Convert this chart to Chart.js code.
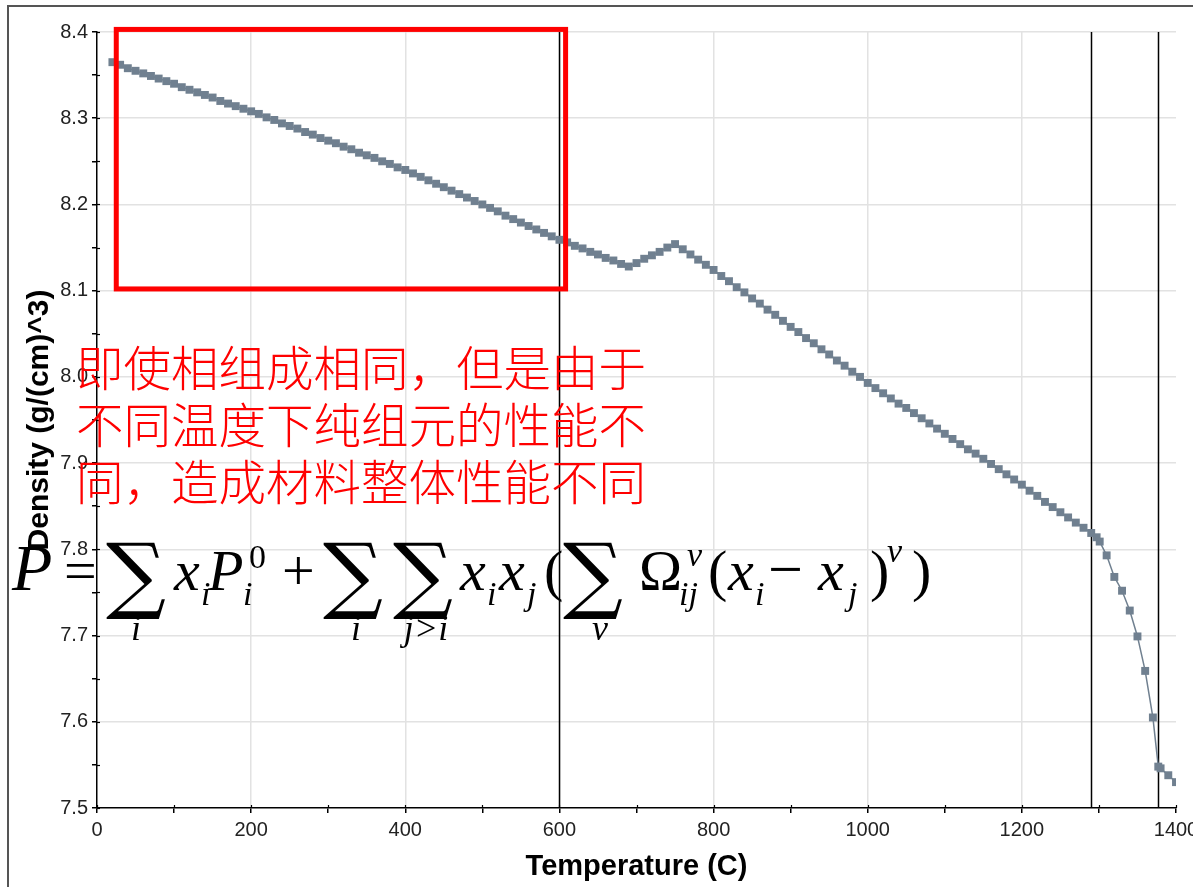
<!DOCTYPE html>
<html>
<head>
<meta charset="utf-8">
<script src="https://cdn.jsdelivr.net/npm/chart.js@4/dist/chart.umd.min.js"></script>
<style>
  html, body { margin: 0; padding: 0; background: #fff; }
  #wrap { width: 1193px; height: 887px; position: relative; }
</style>
</head>
<body>
<div id="wrap"><canvas id="grafico"></canvas></div>
<script>
// === DATOS ===
const temperaturas = [
  20, 30, 40, 50, 60, 70, 80, 90, 100, 110, 120, 130, 140, 150, 160, 170, 180, 190, 200,
  210, 220, 230, 240, 250, 260, 270, 280, 290, 300, 310, 320, 330, 340, 350, 360, 370, 380, 390, 400,
  410, 420, 430, 440, 450, 460, 470, 480, 490, 500, 510, 520, 530, 540, 550, 560, 570, 580, 590, 600,
  610, 620, 630, 640, 650, 660, 670, 680, 690, 700, 710, 720, 730, 740, 750,
  760, 770, 780, 790, 800, 810, 820, 830, 840, 850, 860, 870, 880, 890, 900,
  910, 920, 930, 940, 950, 960, 970, 980, 990, 1000,
  1010, 1020, 1030, 1040, 1050, 1060, 1070, 1080, 1090, 1100,
  1110, 1120, 1130, 1140, 1150, 1160, 1170, 1180, 1190, 1200,
  1210, 1220, 1230, 1240, 1250, 1260, 1270, 1280, 1290, 1297, 1301,
  1310, 1320, 1330, 1340, 1350, 1360, 1370, 1377, 1380, 1390, 1400
];
const densidades = [
  8.365, 8.362, 8.358, 8.355, 8.352, 8.349, 8.346, 8.343, 8.340, 8.336, 8.333, 8.330, 8.327, 8.324, 8.320, 8.317, 8.314, 8.311, 8.308,
  8.305, 8.301, 8.298, 8.294, 8.291, 8.288, 8.284, 8.281, 8.277, 8.274, 8.271, 8.267, 8.264, 8.260, 8.257, 8.254, 8.250, 8.247, 8.243, 8.240,
  8.236, 8.232, 8.228, 8.224, 8.220, 8.216, 8.212, 8.208, 8.204, 8.200, 8.196, 8.192, 8.187, 8.183, 8.179, 8.175, 8.171, 8.167, 8.163, 8.159,
  8.156, 8.152, 8.149, 8.145, 8.142, 8.138, 8.135, 8.131, 8.128, 8.132, 8.137, 8.141, 8.145, 8.150, 8.154,
  8.148, 8.142, 8.136, 8.130, 8.124, 8.117, 8.111, 8.104, 8.098, 8.091, 8.085, 8.078, 8.072, 8.065, 8.058,
  8.052, 8.045, 8.039, 8.032, 8.026, 8.019, 8.013, 8.006, 8.000, 7.993,
  7.987, 7.981, 7.975, 7.969, 7.964, 7.958, 7.952, 7.946, 7.940, 7.934,
  7.928, 7.922, 7.916, 7.911, 7.905, 7.899, 7.893, 7.887, 7.881, 7.875,
  7.868, 7.862, 7.855, 7.849, 7.843, 7.837, 7.831, 7.825, 7.819, 7.814, 7.809,
  7.793, 7.768, 7.752, 7.729, 7.699, 7.659, 7.605, 7.548, 7.546, 7.538, 7.530
];
const lineasVerticales = [600, 1290, 1377];
const cajaRoja = { x1: 25, x2: 608, y1: 8.102, y2: 8.403 };
const textoRojo = [
  '即使相组成相同，但是由于',
  '不同温度下纯组元的性能不',
  '同，造成材料整体性能不同'
];
const tituloX = 'Temperature (C)';
const tituloY = 'Density (g/(cm)^3)';

// === PLUGIN: LINEAS, CAJA, TEXTO ===
const SERIF = '"Liberation Serif", "DejaVu Serif", serif';

function dibujarFormula(ctx) {
  const it = s => 'italic ' + s + 'px ' + SERIF;
  const up = s => s + 'px ' + SERIF;
  const sigma = (x) => {
    ctx.font = '84px "DejaVu Serif", serif';
    ctx.textBaseline = 'alphabetic';
    ctx.fillText('\u2211', x, 603);
  };
  const t = (txt, x, y, font, align) => {
    ctx.font = font;
    ctx.textAlign = align || 'left';
    ctx.textBaseline = 'alphabetic';
    ctx.fillText(txt, x, y);
    ctx.textAlign = 'left';
  };
  ctx.fillStyle = '#000';
  t('P', 12, 590, it(66));
  t('=', 64, 590, up(58));
  sigma(106);
  t('i', 136, 640, it(36), 'center');
  t('x', 174, 590, it(58)); t('i', 201, 605, it(34));
  t('P', 208, 590, it(58)); t('0', 249, 568, up(34)); t('i', 243, 605, it(34));
  t('+', 282, 590, up(58));
  sigma(323);
  t('i', 356, 640, it(36), 'center');
  sigma(393);
  t('j>i', 426, 640, it(36), 'center');
  t('x', 460, 590, it(58)); t('i', 487, 605, it(34));
  t('x', 499, 590, it(58)); t('j', 527, 605, it(34));
  t('(', 544, 590, up(58));
  sigma(563);
  t('v', 600, 640, it(36), 'center');
  t('\u03A9', 639, 590, up(58));
  t('v', 687, 566, it(34)); t('ij', 679, 605, it(34));
  t('(', 708, 590, up(58));
  t('x', 728, 590, it(58)); t('i', 755, 605, it(34));
  t('\u2212', 768, 590, up(62));
  t('x', 818, 590, it(58)); t('j', 848, 605, it(34));
  t(')', 870, 590, up(58));
  t('v', 887, 562, it(34));
  t(')', 912, 590, up(58));
}

const pluginExtras = {
  id: 'extras',
  beforeDatasetsDraw(chart) {
    const { ctx, chartArea, scales } = chart;
    ctx.save();
    ctx.strokeStyle = '#000';
    ctx.lineWidth = 1.5;
    lineasVerticales.forEach(v => {
      const px = Math.round(scales.x.getPixelForValue(v)) + 0.5;
      ctx.beginPath();
      ctx.moveTo(px, chartArea.top);
      ctx.lineTo(px, chartArea.bottom);
      ctx.stroke();
    });
    // marcas que cruzan el eje
    ctx.lineWidth = 1.2;
    scales.y.ticks.forEach(tk => {
      const py = Math.round(scales.y.getPixelForValue(tk.value)) + 0.5;
      ctx.beginPath();
      ctx.moveTo(chartArea.left, py);
      ctx.lineTo(chartArea.left + 3, py);
      ctx.stroke();
    });
    scales.x.ticks.forEach(tk => {
      const px = Math.round(scales.x.getPixelForValue(tk.value)) + 0.5;
      ctx.beginPath();
      ctx.moveTo(px, chartArea.bottom);
      ctx.lineTo(px, chartArea.bottom - 3);
      ctx.stroke();
    });
    ctx.restore();
  },
  afterDraw(chart) {
    const { ctx, scales } = chart;
    ctx.save();
    // marco
    ctx.strokeStyle = '#555';
    ctx.lineWidth = 2;
    ctx.strokeRect(8, 6, 1200, 900);
    // caja roja
    const x1 = scales.x.getPixelForValue(cajaRoja.x1);
    const x2 = scales.x.getPixelForValue(cajaRoja.x2);
    const y1 = scales.y.getPixelForValue(cajaRoja.y1);
    const y2 = scales.y.getPixelForValue(cajaRoja.y2);
    ctx.strokeStyle = '#ff0000';
    ctx.lineWidth = 5;
    ctx.strokeRect(x1, y2, x2 - x1, y1 - y2);
    // texto rojo
    ctx.fillStyle = '#ff0000';
    ctx.font = '300 47.5px "Noto Sans CJK SC"';
    ctx.textBaseline = 'alphabetic';
    textoRojo.forEach((linea, i) => {
      ctx.fillText(linea, 76, 386 + i * 57);
    });
    dibujarFormula(ctx);
    ctx.restore();
  }
};

// === GRAFICO ===
const esMayor = v => Math.abs(v * 10 - Math.round(v * 10)) < 1e-6;
const fuenteEje = '"Liberation Sans", Arial, sans-serif';

const ctx = document.getElementById('grafico').getContext('2d');
new Chart(ctx, {
  type: 'line',
  data: {
    datasets: [{
      data: temperaturas.map((t, i) => ({ x: t, y: densidades[i] })),
      borderColor: '#708090',
      backgroundColor: '#708090',
      borderWidth: 1.5,
      pointStyle: 'rect',
      pointRadius: 5.6,
      pointBorderWidth: 0,
      tension: 0
    }]
  },
  options: {
    responsive: true,
    maintainAspectRatio: false,
    animation: false,
    devicePixelRatio: 1,
    layout: { padding: { top: 32, right: 17, bottom: 0, left: 0 } },
    plugins: { legend: { display: false }, tooltip: { enabled: false } },
    scales: {
      x: {
        type: 'linear',
        min: 0,
        max: 1400,
        afterFit: s => { s.height = 79; s.paddingLeft = 0; s.paddingRight = 0; },
        border: { color: '#000', width: 1.5 },
        grid: {
          color: c => (c.tick && c.tick.value % 200 === 0 && c.tick.value !== 0 && c.tick.value !== 1400) ? '#e2e2e2' : 'rgba(0,0,0,0)',
          tickColor: '#000',
          tickLength: 5,
          lineWidth: 1.5
        },
        ticks: {
          stepSize: 100,
          autoSkip: false,
          maxRotation: 0,
          padding: 5,
          color: '#222',
          font: { family: fuenteEje, size: 20 },
          callback: v => (v % 200 === 0 ? String(v) : '')
        },
        title: {
          display: true,
          text: tituloX,
          color: '#000',
          font: { family: fuenteEje, size: 29, weight: 'bold' },
          padding: { top: 0, bottom: 3 }
        }
      },
      y: {
        type: 'linear',
        min: 7.5,
        max: 8.4,
        afterFit: s => { s.width = 97; s.paddingTop = 0; s.paddingBottom = 0; },
        border: { color: '#000', width: 1.5 },
        grid: {
          color: c => (c.tick && esMayor(c.tick.value) && c.tick.value > 7.55) ? '#e2e2e2' : 'rgba(0,0,0,0)',
          tickColor: '#000',
          tickLength: 5,
          lineWidth: 1.5
        },
        ticks: {
          stepSize: 0.05,
          autoSkip: false,
          padding: 4,
          color: '#222',
          font: { family: fuenteEje, size: 20 },
          callback: v => (esMayor(v) ? v.toFixed(1) : '')
        },
        title: {
          display: true,
          text: tituloY,
          color: '#000',
          font: { family: fuenteEje, size: 30, weight: 'bold' },
          padding: { top: 22, bottom: 0 }
        }
      }
    }
  },
  plugins: [pluginExtras]
});
</script>
</body>
</html>
